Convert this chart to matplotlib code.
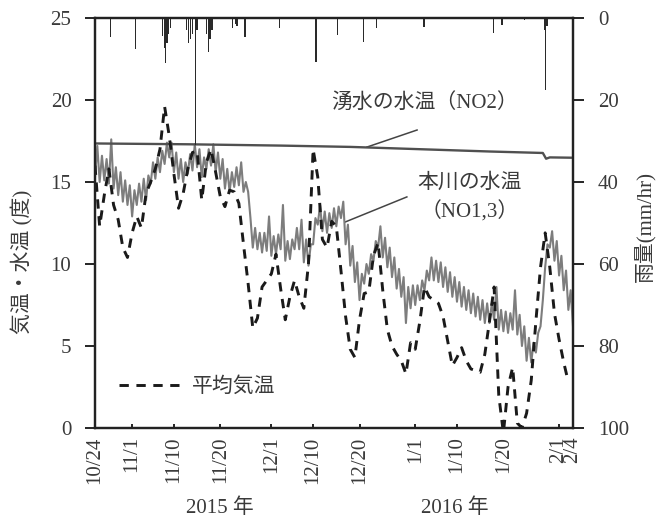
import matplotlib
matplotlib.use("Agg")
import matplotlib.pyplot as plt
import matplotlib.dates as mdates
import pandas as pd
import numpy as np

plt.rcParams['font.family'] = ['Liberation Serif', 'Noto Sans CJK JP']

start = pd.Timestamp('2015-10-24')

# Daily mean air temperature (deg C), from 10/24 onwards
air_temp = [16.0, 12.3, 14.2, 15.8, 13.6, 12.7, 11.0, 10.4, 11.9, 12.9,
            12.2, 14.3, 15.0, 15.8, 17.0, 19.6, 17.8, 15.5, 13.4, 14.3,
            15.8, 16.8, 16.9, 13.9, 16.2, 17.0, 15.6, 14.1, 13.5, 14.5,
            14.4, 13.7, 11.2, 8.8, 6.1, 6.7, 8.6, 9.0, 9.4, 10.6,
            8.5, 6.6, 8.0, 9.0, 8.0, 7.3, 10.0, 17.0, 15.3, 11.5,
            11.0, 12.6, 12.3, 9.6, 6.8, 4.8, 4.3, 6.6, 8.2, 8.3,
            10.5, 11.3, 8.4, 6.0, 5.0, 4.5, 4.1, 3.3, 5.2, 4.8,
            6.5, 8.6, 8.0, 7.8, 7.6, 6.8, 5.3, 3.8, 4.3, 4.9,
            4.1, 3.6, 3.5, 3.4, 4.5, 6.5, 8.6, 2.0, -0.3, 2.5,
            3.7, 0.3, 0.0, 0.9, 2.9, 6.5, 9.8, 11.9, 9.8, 7.0,
            5.4, 4.0, 2.8]

# River water temperature NO1,3 (12-hourly readings, low / high)
river_temp = [15.3, 17.2, 15.0, 16.6, 15.1, 16.4, 14.9, 17.6, 14.6, 15.9,
              14.2, 15.6, 13.8, 15.1, 13.6, 14.8, 12.9, 14.5, 13.6, 14.9,
              13.8, 15.2, 13.9, 15.4, 14.9, 16.2, 15.2, 16.5, 15.6, 16.9,
              16.1, 17.4, 16.5, 17.4, 15.6, 16.8, 15.2, 16.4, 15.0, 16.2,
              15.5, 16.7, 15.7, 17.3, 15.9, 17.0, 15.3, 16.5, 15.8, 17.0,
              16.0, 17.3, 15.6, 16.8, 15.2, 16.4, 14.6, 15.8, 14.4, 15.6,
              14.7, 15.9, 14.8, 16.2, 14.4, 15.0, 14.4, 12.8, 11.0, 12.2,
              10.9, 11.9, 10.7, 11.9, 10.8, 12.9, 10.5, 11.7, 10.6, 11.8,
              10.9, 13.6, 10.2, 11.4, 10.3, 11.5, 10.9, 12.2, 10.9, 12.7,
              10.1, 11.5, 9.9, 11.2, 11.2, 12.8, 12.4, 13.6, 12.0, 13.2,
              11.9, 13.1, 12.2, 13.4, 12.3, 13.5, 12.8, 13.8, 11.2, 12.4,
              9.9, 11.1, 8.9, 10.1, 7.8, 9.4, 8.8, 10.0, 9.4, 10.6,
              10.2, 11.4, 11.0, 12.3, 10.4, 11.6, 9.8, 11.0, 9.2, 10.4,
              8.5, 9.7, 8.0, 9.2, 6.4, 8.6, 7.3, 8.7, 7.5, 8.7,
              7.8, 9.0, 8.4, 9.6, 9.0, 10.4, 9.0, 10.2, 8.9, 10.1,
              8.6, 9.8, 8.3, 9.5, 8.0, 9.2, 7.7, 8.9, 7.4, 8.6,
              7.2, 8.4, 7.0, 8.2, 6.8, 8.0, 6.6, 7.8, 6.4, 7.6,
              6.4, 7.6, 6.6, 8.6, 6.0, 7.2, 5.9, 7.1, 5.8, 7.0,
              6.0, 8.4, 5.7, 6.9, 5.0, 6.2, 4.1, 5.5, 4.0, 5.2,
              4.6, 5.8, 6.2, 7.8, 9.8, 11.2, 11.0, 12.0, 10.2, 11.4,
              9.3, 10.5, 8.4, 9.6, 7.2, 8.4, 6.2]

# Spring water temperature NO2
spring_day = [0, 20, 40, 55, 70, 85, 96.5, 97.2, 98, 103]
spring_temp = [17.35, 17.3, 17.22, 17.14, 17.0, 16.86, 16.77, 16.42, 16.5, 16.48]

# Rainfall (mm/hr)
rain_day = [3.4, 8.8, 14.6, 14.9, 15.2, 15.5, 15.9, 16.2, 19.8, 20.2,
            20.6, 21.0, 21.6, 22.0, 24.0, 24.4, 24.8, 25.2, 29.7, 30.2,
            30.6, 32.3, 39.7, 47.6, 52.3, 57.8, 60.6, 70.9, 85.8, 87.7,
            92.5, 96.9, 97.1, 97.4]
rain_mm = [4.6, 7.6, 4.5, 7.3, 11.0, 6.0, 4.0, 2.5, 3.0, 6.0,
           5.0, 4.0, 31.0, 3.0, 4.0, 8.3, 5.0, 3.0, 2.5, 1.5,
           2.0, 4.6, 2.5, 10.7, 4.1, 5.8, 2.5, 2.1, 3.7, 1.7,
           0.5, 3.0, 17.5, 2.0]

tick_dates = ['2015-10-24', '2015-11-01', '2015-11-10', '2015-11-20', '2015-12-01',
              '2015-12-10', '2015-12-20', '2016-01-01', '2016-01-10', '2016-01-20',
              '2016-02-01', '2016-02-04']
tick_labels = ['10/24', '11/1', '11/10', '11/20', '12/1', '12/10', '12/20',
               '1/1', '1/10', '1/20', '2/1', '2/4']

air_t = pd.date_range(start, periods=len(air_temp), freq='D')
river_t = pd.date_range(start, periods=len(river_temp), freq='12h')
spring_t = start + pd.to_timedelta(spring_day, unit='D')
rain_t = start + pd.to_timedelta(rain_day, unit='D')

fig = plt.figure(figsize=(6.64, 5.22), dpi=100)
ax = fig.add_axes([95/664, 1-428/522, 478/664, 410/522])
txtc = '#3a3a3a'

ax.plot(river_t, river_temp, color='#7d7d7d', lw=1.5, zorder=3)
ax.plot(spring_t, spring_temp, color='#505050', lw=1.7, zorder=4)
ax.plot(air_t, air_temp, color='#1a1a1a', lw=2.1, dashes=(3.2, 2.6), zorder=5,
        label='平均気温')

ax.set_xlim(pd.Timestamp('2015-10-24'), pd.Timestamp('2016-02-04'))
ax.set_ylim(0, 25)
ax.set_yticks([0, 5, 10, 15, 20, 25])
ax.set_xticks(pd.to_datetime(tick_dates))
ax.set_xticklabels(tick_labels, rotation=90, fontsize=15, color=txtc)
ax.tick_params(axis='x', direction='in', length=3, width=1.2, pad=6)
ax.tick_params(axis='y', direction='out', length=7, width=1.2, labelsize=15,
               labelcolor=txtc, pad=10)
for s in ax.spines.values():
    s.set_linewidth(1.6)
    s.set_color('#222222')

ax2 = ax.twinx()
ax2.bar(rain_t, rain_mm, width=0.26, color='#2a2a2a', linewidth=0,
        align='center', zorder=2)
ax2.set_ylim(100, 0)
ax2.set_yticks([0, 20, 40, 60, 80, 100])
ax2.tick_params(axis='y', direction='out', length=8, width=1.2, labelsize=15,
                labelcolor=txtc, pad=10)
for s in ax2.spines.values():
    s.set_linewidth(1.6)
    s.set_color('#222222')

# annotations
ax.text(start + pd.Timedelta(days=71.1), 19.8, '湧水の水温（NO2）', ha='center',
        va='center', fontsize=15, color=txtc)
ax.plot([start + pd.Timedelta(days=69.4), start + pd.Timedelta(days=58.6)],
        [18.17, 17.13], color='#444444', lw=1.1)
ax.text(start + pd.Timedelta(days=80.8), 14.95, '本川の水温', ha='center',
        va='center', fontsize=15, color=txtc)
ax.text(start + pd.Timedelta(days=80.8), 13.2, '（NO1,3）', ha='center',
        va='center', fontsize=15, color=txtc)
ax.plot([start + pd.Timedelta(days=67.2), start + pd.Timedelta(days=53.9)],
        [14.09, 12.56], color='#444444', lw=1.1)

leg = ax.legend(loc='lower left', bbox_to_anchor=(0.01, 0.03), frameon=False,
                handlelength=2.9, fontsize=15, handletextpad=0.6)
for t in leg.get_texts():
    t.set_color(txtc)

fig.text(22/664, 1-262/522, '気温・水温 (度)', rotation=90, ha='center', va='center',
         fontsize=15, color=txtc)
fig.text(646/664, 1-226/522, '雨量(mm/hr)', rotation=90, ha='center', va='center',
         fontsize=15, color=txtc)
fig.text(220/664, 1-508/522, '2015 年', ha='center', va='center', fontsize=15, color=txtc)
fig.text(455/664, 1-508/522, '2016 年', ha='center', va='center', fontsize=15, color=txtc)

fig.savefig('out.png', dpi=100)
